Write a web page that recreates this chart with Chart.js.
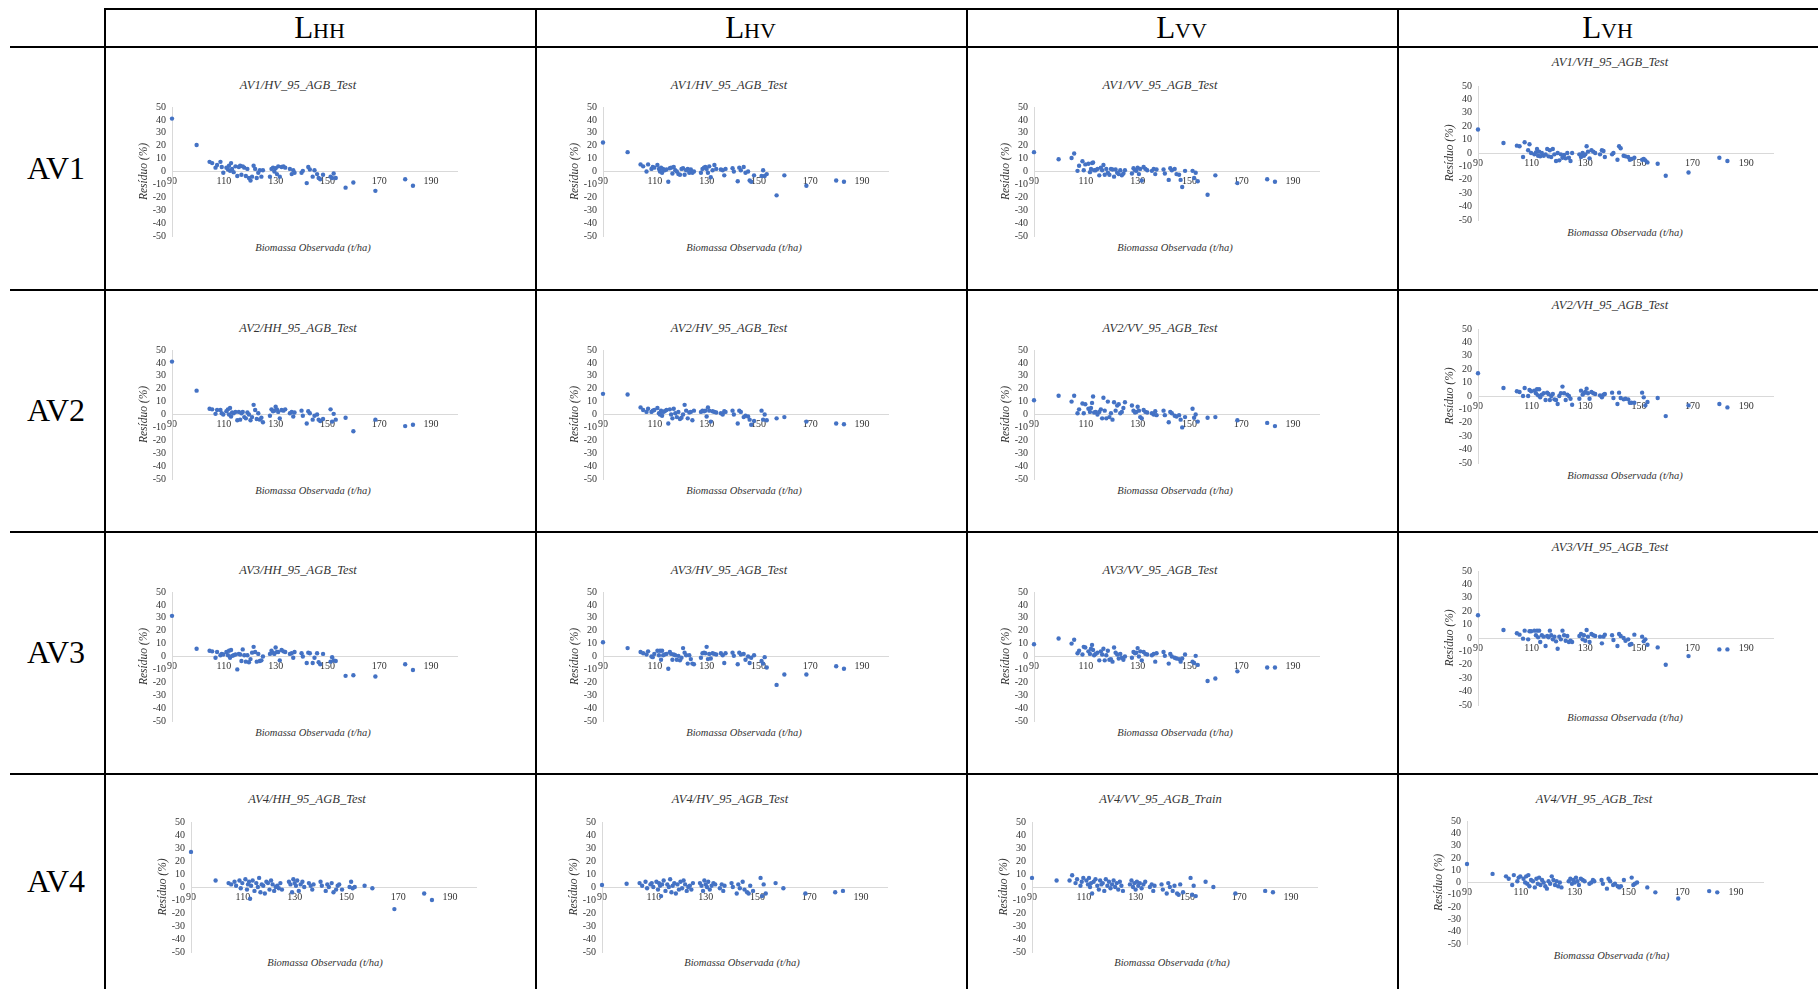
<!DOCTYPE html>
<html>
<head>
<meta charset="utf-8">
<script src="https://cdn.jsdelivr.net/npm/chart.js@4.4.0/dist/chart.umd.min.js"></script>
<style>
  body { margin: 0; background: #fff; }
  #page { position: relative; width: 1818px; height: 989px; overflow: hidden;
          font-family: "Liberation Serif", "Times New Roman", serif; }
  .hl { position: absolute; height: 2px; background: #000; }
  .vl { position: absolute; width: 2px; background: #000; }
  .hdr { position: absolute; transform: translate(-50%, -50%); white-space: nowrap; color: #000; }
  .hdr .big { font-size: 31px; }
  .hdr .sub { font-size: 22px; }
  .rowlab { position: absolute; transform: translate(-50%, -50%); font-size: 32px; color: #000; }
  .ctitle { position: absolute; transform: translate(-50%, -50%); font-style: italic;
            font-size: 12.5px; white-space: nowrap; color: #333; }
  .xlab { position: absolute; transform: translate(-50%, -50%); font-style: italic;
          font-size: 10.5px; white-space: nowrap; color: #333; }
  canvas { position: absolute; }
</style>
</head>
<body>
<div id="page"></div>
<script>
// column / row headings
const COL_HEAD = ['HH', 'HV', 'VV', 'VH'];
const ROW_HEAD = ['AV1', 'AV2', 'AV3', 'AV4'];

const TITLES = [
  ['AV1/HV_95_AGB_Test', 'AV1/HV_95_AGB_Test', 'AV1/VV_95_AGB_Test', 'AV1/VH_95_AGB_Test'],
  ['AV2/HH_95_AGB_Test', 'AV2/HV_95_AGB_Test', 'AV2/VV_95_AGB_Test', 'AV2/VH_95_AGB_Test'],
  ['AV3/HH_95_AGB_Test', 'AV3/HV_95_AGB_Test', 'AV3/VV_95_AGB_Test', 'AV3/VH_95_AGB_Test'],
  ['AV4/HH_95_AGB_Test', 'AV4/HV_95_AGB_Test', 'AV4/VV_95_AGB_Train', 'AV4/VH_95_AGB_Test']
];

const X_TICKS = [90, 110, 130, 150, 170, 190];
const Y_TICKS = [-50, -40, -30, -20, -10, 0, 10, 20, 30, 40, 50];

// observed biomass (t/ha), shared by every panel
const X_OBS = [
  90, 99.5,
  104.5, 105.5, 106.8, 107.4, 108.7, 109.2, 109.8,
  111, 111.6, 112, 112.4, 112.8, 113.2, 113.8, 114.5, 115.2, 115.8, 116.3, 116.8, 117.3,
  117.9, 118.5, 119.1, 119.7, 120.3, 120.9, 121.5, 122.1, 122.7, 123.3, 123.9, 124.5, 125.1,
  127.8, 128.4, 129, 129.5, 130, 130.5, 131, 131.6, 132.3, 133, 133.7, 135.5, 136.2, 136.8, 137.3,
  140, 140.5, 142, 142.6, 143.2, 144.3, 145, 146, 146.6, 147.2, 148.3, 151.2, 151.8, 152.4, 153.2,
  157, 160, 168.5, 180, 183
];

// residuals (%) per panel
const RES_AV1_HH = [41, 20.5,
  7.5, 6.5, 3, 5, 7.5, 3.5, -1,
  3, 1.5, 4.5, 0.5, 6.5, 2, -0.5, 4, -3.5, 3.5, 4.5, -2.5, 4, 3, -3.5, 2, -5, -7, -4, 4.5, 2, -5, -1, 1, -4, 1,
  -4, 2, 3, 0, 2.5, -2, 4, -4, 3.5, 4, 3, 2, -2, 1, -1,
  -1, 0.5, -9, 3.5, 1.5, -4, 1, -2, -5, -6, -2.5, -4, -5, -1.5, -5,
  -12.5, -8.5, -15, -6, -11];
const RES_AV1_HV = [22.5, 15,
  5.5, 4, 0, 5.5, 2, 3.5, 3,
  5, 2, 0, 3, -1, 2, 1, 1.5, -8, 2.5, 3, -1.5, 3.5, 1, 0, -2, -2.5, 2, 2.5, -2.5, 1, 2, -1, 1.5, -1, 0,
  -1, 2, 3, 3.5, 2, -1, 4, -4.5, 1, 5, 2, 1.5, 1, -3, 2,
  2.5, 0, -7.5, 3, 1, 3.5, -1, 0, -7, -8, -3, -3.5, 1, -3.5, -2,
  -18.5, -3, -11, -7, -8];
const RES_AV1_VV = [15, 9.5,
  10.5, 14, 0.5, 4.5, 8, 1, 5.5,
  6, -0.5, 2, 6.5, 7, 1, 1, 2, -3, 3, 1, 5, -2.5, 2, -1, -2.5, 2, 1.5, -4, 1.5, -1, -2, 1, -3, -1.5, 1,
  -1.5, 2.5, 1, 0.5, 3, -2, 2, -7, 3.5, 2, 1, 0.5, 2, -2, 1.5,
  1.5, -1.5, -6.5, 2.5, 1, 2, -2, -2.5, -6.5, -12, 0.5, 0.5, -5, -1, -7.5,
  -18, -3, -9, -6, -8];
const RES_AV1_VH = [17.5, 7.5,
  5.5, 5, -3, 8, 2, 6.5, 0,
  -1, 0.5, 3, -2, 1, -2.5, 0, -2, -1, 3, -2.5, 2, -3, 3, -1, -6, 0, -5.5, -1, -3.5, -1.5, -4, 0, -3.5, -6, 0,
  -1, -3, 0, -2, -1, 5, 1, -4, 2, 1, 0, -1, 2, 1.5, -3,
  -1, 0, -5, 5, 3.5, -2, -2.5, -3, -5, -4.5, -3.5, -5, -4.5, -5.5, -7,
  -8, -17, -14.5, -3.5, -6];

const RES_AV2_HH = [41, 18.5,
  4.5, 4, 0.5, 3.5, 3.5, 1, 0,
  2.5, 4, 0, 5, -1.5, 1.5, 1, 2, -4.5, 2, -4, 1, 2, -2, -3, 1.5, 0, -4.5, -2, 7.5, 3.5, -3.5, 1, -4, -2.5, -6,
  -1, 4, 2.5, 3, 6, 4, 2, -3, 3.5, 3, 4, 1, 2, -1.5, 1.5,
  3, -1, -7, 2.5, 1, -4, -1, 0, -4, -5, -3.5, 4, -5.5, 0.5, -4,
  -2.5, -13, -4, -9, -8];
const RES_AV2_HV = [16, 15.5,
  5.5, 3.5, 2, 4.5, 2, 3, 3.5,
  5, 1, 0, 3, -1, 2, 2.5, 3.5, -7, 4, 0, -3, 4.5, 1, -2, 2, -3.5, -2.5, 0, 7.5, 3, -3, 1.5, 2, -4.5, 3,
  2, 3, 2.5, 3, -1.5, 5.5, 3, -5.5, 2.5, 2, 1.5, 1, 0, 2.5, 2,
  3, 0, -7, 3, 2, -2, -1, -1.5, -4, -8, -5, 3, -4, 0, -4.5,
  -3, -2, -5.5, -7, -7.5];
const RES_AV2_VV = [11, 14.5,
  10, 14.5, 1, 4, 8.5, 1, 8,
  4.5, 2, 5, 9, 14, 1.5, 2, 0, 2, 4, -3, 13, 3, -3, 10, -2, 1, -4, 9.5, 3, 7, 8, 1, 2, 5, 9.5,
  7, 3, 1.5, 2, 6, 3, -2, -3, 3.5, 2, 1.5, 1, 0, 2.5, -0.5,
  3, -0.5, -6, 2, 1, -1, -1.5, -0.5, -4, -10, -2, 4.5, -2.5, 0, -5.5,
  -2.5, -2, -4.5, -6.5, -9];
const RES_AV2_VH = [17, 6,
  3.5, 3, 0, 6, 0, 4.5, 3.5,
  4, 2, 5, 0.5, 5, -1, 1, 2, -3, 2.5, 1.5, -3, 0, 1.5, -2.5, -3, -6, 0, 2, 7, 2, -3, 1, 0, -2, -6.5,
  -2, 4, 1, 2, 3, 5.5, 2, -2, 3, 2, 1.5, 0.5, -1, 1, 1.5,
  2.5, -1.5, -6, 2.5, -1.5, -2.5, -2, -2.5, -5, -5, -5, 2.5, -1, -7, -4.5,
  -1.5, -15, -7, -6, -8.5];

const RES_AV3_HH = [31.5, 6,
  4.5, 4, -1, 3.5, 1, 2, 1.5,
  3.5, 1, 4.5, -1, 5, 0.5, 1, 1.5, -10, 2, 1.5, -3.5, 5.5, 1, -4, 1, -4.5, -2, 3, 7.5, 3.5, -4, 2, -3.5, -3, 0,
  2, 4.5, 3, 2, 7, 3.5, 3.5, -3, 5, 4, 3.5, 2, 2.5, -1, 3.5,
  2.5, 0, -5, 3, 2.5, -5, -1, 2.5, -4.5, -6, 2, -4, -0.5, -3, -3.5,
  -15, -14.5, -15.5, -6, -10.5];
const RES_AV3_HV = [11, 6.5,
  3.5, 2.5, 1.5, 4, 0, -0.5, 2,
  4.5, 1, 4.5, -2.5, 4.5, 1, 1.5, 2, -9.5, 3.5, 2, -2.5, 1.5, 1, -2.5, 0.5, -3, -1, 6.5, 3, 1, -5.5, 1, -2, -5.5, -6,
  -1, 2.5, 3, 2.5, 7.5, -2, 2, -1.5, 2.5, 2, 1.5, 2.5, 1, -5, 2.5,
  3, 0.5, -6, 3, 1.5, 2, -2.5, 0, -5, -1, 1, -3.5, -5.5, -0.5, -8.5,
  -22, -14, -14, -7.5, -9.5];
const RES_AV3_VV = [9.5, 14,
  10, 13, 2.5, 4.5, 1.5, 7.5, 7,
  4, 2, 6, 9, 5, 1, 2, 3, -3, 4, 1.5, 6, -3, 1, 4.5, -2.5, -2, -4, 7, 3, 1.5, -1.5, 2, -1, -2.5, 0,
  -1, 3.5, 2.5, 3, 6.5, 0, 4, -3, 3.5, 2, 1.5, 1, 2, -4, 2.5,
  3.5, 0.5, -5.5, 2, 0, -1, -1.5, -2, -4, -1.5, 1.5, -4, -5, 0.5, -6.5,
  -19, -17, -11.5, -8.5, -8.5];
const RES_AV3_VH = [17, 6,
  3.5, 2.5, -0.5, 5.5, -1, 5, 5,
  5.5, 2, 5.5, 0.5, 5.5, -3, 2, 1, -6, 1.5, 0.5, 5.5, 2, -1, 1, -2.5, -8, 1, -1, 5.5, 2, -2, 1.5, -3, -2, -3,
  1.5, 3, -1, 2, -2, 6, 1, -3, 3, 2, 1.5, 1, -4, 1, 2.5,
  2, -1.5, -6, 3, 1.5, 0, -2, -1, -5, -4.5, 2.5, 1, -2.5, -1, -5,
  -7, -20, -13.5, -8.5, -8.5];

const RES_AV4_HH = [27, 5,
  3, 2, 4, 1, 5, -1, 3,
  6, -2, 2, 4, -9, 1, 5, -3, 3, 0, 7, -4, 2, 1, -5, 4, 3, -2, 5, 2, -3, 0, 1, -1, 3, -2,
  4, 2, -4, 6, 3, 1, 5, -3, 2, 4, 0, 3, 1, -2, 2,
  4, 1, -3, 2, 0, 3, -4, -2, 1, 2, -2, 0, 4, -1, 0,
  1, -1, -17, -5, -10];
const RES_AV4_HV = [1.5, 2.5,
  3, 1, 4, -1, 2, 3, 0,
  4, -2, 3, 1, -7, 2, 5, -3, 2, 0, 6, -4, 1, 3, -5, 2, -2, 4, -1, 5, 2, -3, 0, 1, -2, 3,
  3, 1, -3, 5, 2, 0, 4, -2, 1, 3, 2, -1, 2, -3, 1,
  3, 0, -5, 2, -1, 4, -2, -4, -5, 1, -3, 7, -7, 2, -5,
  3, -1, -5, -4, -3];
const RES_AV4_VV = [7, 5,
  5, 9, 3, 6, 1, 4, 7,
  5, 2, 7, 0, 3, -5, 4, 6, 1, -2, 5, 2, 3, -3, 6, 1, 4, -1, 2, 5, 0, 3, -2, 4, 1, -3,
  2, 5, 0, 3, -2, 4, 1, 3, -1, 2, 4, 0, 2, -3, 1,
  2, -2, -5, 3, 0, -3, 1, -5, -6, 2, -4, 7, -6, 1, -7,
  4, 0, -5, -3, -4];
const RES_AV4_VH = [15, 7,
  5, 3, -2, 6, 1, 4, 5,
  3, 0, 5, -1, 6, -3, 2, 1, -4, 3, -1, 4, -2, 2, 0, -3, -5, 1, -1, 5, 2, -2, 1, -3, 0, -4,
  1, 3, -1, 2, 0, 4, 1, -2, 3, 2, 1, -1, 0, 2, 1,
  2, -1, -5, 3, 1, -2, -1, -3, -4, -3, 2, 4, -2, -1, 0,
  -4, -8, -13, -7, -8];

const RESIDUALS = [
  [RES_AV1_HH, RES_AV1_HV, RES_AV1_VV, RES_AV1_VH],
  [RES_AV2_HH, RES_AV2_HV, RES_AV2_VV, RES_AV2_VH],
  [RES_AV3_HH, RES_AV3_HV, RES_AV3_VV, RES_AV3_VH],
  [RES_AV4_HH, RES_AV4_HV, RES_AV4_VV, RES_AV4_VH]
];

// table grid (page pixels)
const COL_X = [104, 535, 966, 1397, 1818];
const ROW_Y = [8, 46, 289, 531, 773, 989];

const page = document.getElementById('page');

function addDiv(cls, css, html) {
  const d = document.createElement('div');
  d.className = cls;
  Object.assign(d.style, css);
  if (html !== undefined) d.innerHTML = html;
  page.appendChild(d);
  return d;
}

// table lines
addDiv('hl', { left: COL_X[0] + 'px', top: ROW_Y[0] + 'px', width: (1818 - COL_X[0]) + 'px' });
for (let i = 1; i < 5; i++) {
  addDiv('hl', { left: '10px', top: ROW_Y[i] + 'px', width: '1808px' });
}
for (let i = 0; i < 4; i++) {
  addDiv('vl', { left: COL_X[i] + 'px', top: ROW_Y[0] + 'px', height: (989 - ROW_Y[0]) + 'px' });
}

// headers
COL_HEAD.forEach((h, i) => {
  const cx = (COL_X[i] + COL_X[i + 1]) / 2;
  addDiv('hdr', { left: cx + 'px', top: '28px' },
    '<span class="big">L</span><span class="sub">' + h + '</span>');
});
ROW_HEAD.forEach((h, i) => {
  addDiv('rowlab', { left: '56px', top: ((ROW_Y[i + 1] + ROW_Y[i + 2]) / 2) + 'px' }, h);
});

// where each panel sits inside its cell
function cellGeom(r, c) {
  const L = COL_X[c], T = ROW_Y[r + 1];
  if (r < 3 && c < 3) {
    return { axisX: L + 67.5, plotTop: T + 56.5, plotW: 285, plotH: 137,
             titleX: L + 194, titleY: T + 38.5, labX: L + 209, labY: T + 201 };
  }
  if (r < 3) {
    return { axisX: L + 81.3, plotTop: T + 35.8, plotW: 295, plotH: 142,
             titleX: L + 213, titleY: T + 16.3, labX: L + 228, labY: T + 186 };
  }
  const last = [
    { axisX: 191, plotTop: 817.5, plotW: 285, plotH: 138, titleX: 307, titleY: 799, labX: 325, labY: 962 },
    { axisX: 601.7, plotTop: 817.5, plotW: 285, plotH: 138, titleX: 730, titleY: 799, labX: 742, labY: 962 },
    { axisX: 1031.8, plotTop: 817.5, plotW: 285, plotH: 138, titleX: 1160.5, titleY: 799, labX: 1172, labY: 962 },
    { axisX: 1466.6, plotTop: 817, plotW: 296, plotH: 131, titleX: 1594, titleY: 799, labX: 1611.5, labY: 955 }
  ];
  return last[c];
}

const SERIF = '"Liberation Serif", "Times New Roman", serif';
const TXT = '#333';
const AXIS = '#d9d9d9';
const DOT = '#4472C4';

function drawPanel(r, c) {
  const g = cellGeom(r, c);
  const yW = 40, pad = 8;

  addDiv('ctitle', { left: g.titleX + 'px', top: g.titleY + 'px' }, TITLES[r][c]);
  addDiv('xlab', { left: g.labX + 'px', top: g.labY + 'px' }, 'Biomassa Observada (t/ha)');

  const cv = document.createElement('canvas');
  cv.width = yW + g.plotW + pad;
  cv.height = g.plotH + 2 * pad;
  cv.style.left = (g.axisX - yW) + 'px';
  cv.style.top = (g.plotTop - pad) + 'px';
  page.appendChild(cv);

  const res = RESIDUALS[r][c];
  const pts = [];
  X_OBS.forEach((x, i) => { if (res[i] !== undefined) pts.push({ x: x, y: res[i] }); });

  new Chart(cv.getContext('2d'), {
    type: 'scatter',
    data: {
      datasets: [{
        data: pts,
        backgroundColor: DOT,
        borderColor: DOT,
        pointRadius: 2.2,
        pointBorderWidth: 0,
        clip: false
      }]
    },
    options: {
      responsive: false,
      animation: false,
      devicePixelRatio: 1,
      layout: { padding: { top: pad, bottom: pad, right: pad, left: 0 } },
      plugins: { legend: { display: false }, tooltip: { enabled: false } },
      scales: {
        x: {
          type: 'linear',
          position: { y: 0 },
          min: 90, max: 200,
          afterBuildTicks: s => { s.ticks = X_TICKS.map(v => ({ value: v })); },
          grid: { display: false, drawTicks: false },
          border: { color: AXIS, width: 1 },
          ticks: { padding: 4, autoSkip: false, maxRotation: 0, color: TXT,
                   font: { family: SERIF, size: 10 } }
        },
        y: {
          min: -50, max: 50,
          afterBuildTicks: s => { s.ticks = Y_TICKS.map(v => ({ value: v })); },
          afterFit: s => { s.width = yW; },
          grid: { display: false, drawTicks: false },
          border: { color: AXIS, width: 1 },
          ticks: { padding: 6, autoSkip: false, color: TXT, font: { family: SERIF, size: 10 } },
          title: { display: true, text: 'Resíduo (%)', color: TXT, padding: { top: 5, bottom: 0 },
                   font: { family: SERIF, size: 11.5, style: 'italic' } }
        }
      }
    }
  });
}

for (let r = 0; r < 4; r++) {
  for (let c = 0; c < 4; c++) drawPanel(r, c);
}
</script>
</body>
</html>
